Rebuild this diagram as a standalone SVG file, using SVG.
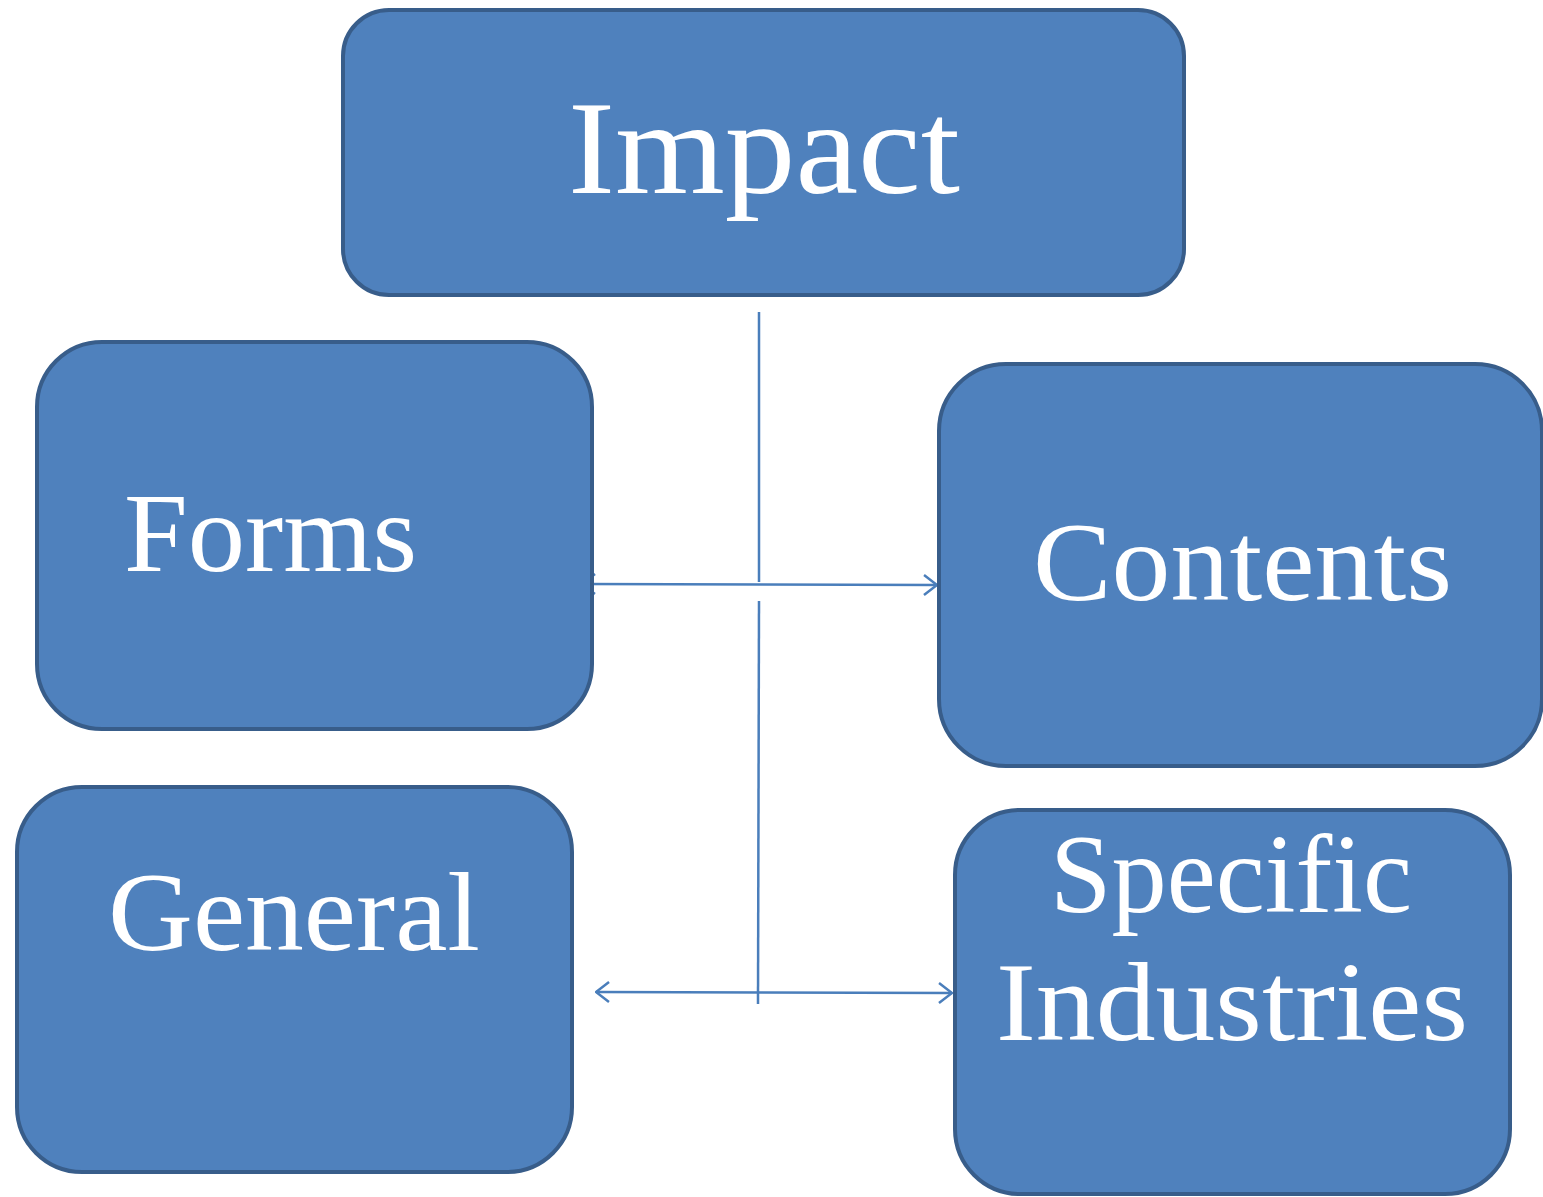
<svg xmlns="http://www.w3.org/2000/svg" width="1543" height="1197" viewBox="0 0 1543 1197">
  <style>
    .box { fill: #4f81bd; stroke: #385d8a; stroke-width: 4; }
    .lbl { fill: #ffffff; font-family: "Liberation Serif", "DejaVu Serif", serif; }
    .ln { stroke: #4a7ebb; stroke-width: 2.5; fill: none; }
  </style>
  <defs>
    <marker id="chev" viewBox="0 0 16 24" refX="15" refY="12" markerWidth="16" markerHeight="24" markerUnits="userSpaceOnUse" orient="auto-start-reverse">
      <path d="M2 2 L15 12 L2 22" fill="none" stroke="#4a7ebb" stroke-width="2.5"/>
    </marker>
  </defs>
  <rect width="1543" height="1197" fill="#ffffff"/>

  <g id="connectors">
    <line class="ln" x1="759" y1="312" x2="759" y2="582"/>
    <line class="ln" x1="759" y1="601" x2="758" y2="1004"/>
    <line class="ln" x1="582" y1="584" x2="937" y2="585" marker-start="url(#chev)" marker-end="url(#chev)"/>
    <line class="ln" x1="596" y1="992" x2="952" y2="993" marker-start="url(#chev)" marker-end="url(#chev)"/>
  </g>

  <g id="impact">
    <rect class="box" x="343" y="10" width="841" height="285" rx="46"/>
    <text class="lbl" x="568" y="193" font-size="133" textLength="392" lengthAdjust="spacingAndGlyphs">Impact</text>
  </g>
  <g id="forms">
    <rect class="box" x="37" y="342" width="555" height="387" rx="65"/>
    <text class="lbl" x="124" y="571" font-size="112" textLength="293" lengthAdjust="spacingAndGlyphs">Forms</text>
  </g>
  <g id="contents">
    <rect class="box" x="939" y="364" width="603" height="402" rx="67"/>
    <text class="lbl" x="1033" y="600" font-size="112" textLength="419" lengthAdjust="spacingAndGlyphs">Contents</text>
  </g>
  <g id="general">
    <rect class="box" x="17" y="787" width="555" height="385" rx="65"/>
    <text class="lbl" x="108" y="950" font-size="112" textLength="372" lengthAdjust="spacingAndGlyphs">General</text>
  </g>
  <g id="specific-industries">
    <rect class="box" x="955" y="810" width="555" height="384" rx="65"/>
    <text class="lbl" x="1050" y="912" font-size="112" textLength="362" lengthAdjust="spacingAndGlyphs">Specific</text>
    <text class="lbl" x="996" y="1040" font-size="112" textLength="472" lengthAdjust="spacingAndGlyphs">Industries</text>
  </g>
</svg>
